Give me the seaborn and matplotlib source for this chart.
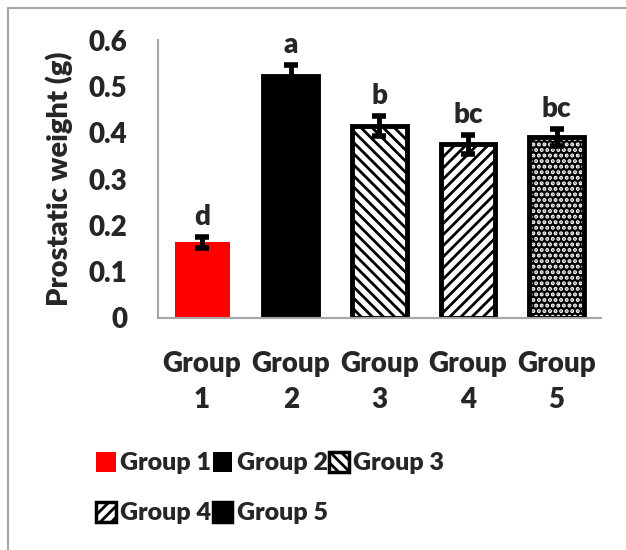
import numpy as np
import pandas as pd
import matplotlib
matplotlib.use('Agg')
import matplotlib.pyplot as plt
import seaborn as sns
from matplotlib.patches import Patch, Rectangle

groups = ['Group 1', 'Group 2', 'Group 3', 'Group 4', 'Group 5']
tick_labels = ['Group\n1', 'Group\n2', 'Group\n3', 'Group\n4', 'Group\n5']
weights = [0.163, 0.522, 0.415, 0.375, 0.390]
errors = [0.011, 0.024, 0.022, 0.020, 0.018]
letters = ['d', 'a', 'b', 'bc', 'bc']

df = pd.DataFrame({'group': groups, 'weight': weights})

sns.set_style('white')
plt.rcParams['font.family'] = ['Lato', 'DejaVu Sans']
plt.rcParams['font.weight'] = 'heavy'
plt.rcParams['hatch.linewidth'] = 2.0

W = 'heavy'
fill = ['red', 'black', 'white', 'white', 'black']
hatch_col = ['red', 'black', 'black', 'black', 'white']
hatches = ['', '', '\\\\\\', '///', '...']

fig = plt.figure(figsize=(6.26, 5.5), dpi=100)
ax = fig.add_axes([0.252, 0.422, 0.708, 0.505])

sns.barplot(data=df, x='group', y='weight', ax=ax, width=0.62,
            palette=fill, hue='group', legend=False, saturation=1)
for i, p in enumerate(ax.patches):
    p.set_hatch(hatches[i])
    p.set_edgecolor(hatch_col[i])
    p.set_linewidth(0)

x = np.arange(len(groups))
# black outlines on groups 2-5
ax.bar(x[1:], weights[1:], width=0.62, fill=False, edgecolor='black', linewidth=3.5)
ax.errorbar(x, weights, yerr=errors, fmt='none', ecolor='black',
            elinewidth=3.5, capsize=5, capthick=4)

for xi, w, e, t in zip(x, weights, errors, letters):
    ax.annotate(t, (xi, w + e), xytext=(0, 5), textcoords='offset points',
                ha='center', va='bottom', fontsize=20, fontweight=W)

ax.set_ylim(0, 0.6)
ax.set_xlim(-0.5, 4.5)
ax.set_yticks([0, 0.1, 0.2, 0.3, 0.4, 0.5, 0.6])
ax.set_yticklabels(['0', '0.1', '0.2', '0.3', '0.4', '0.5', '0.6'], fontweight=W)
ax.set_xticks(x)
ax.set_xticklabels(tick_labels, linespacing=1.45, fontweight=W)
ax.tick_params(length=0, labelsize=20)
ax.tick_params(axis='y', pad=22)
ax.tick_params(axis='x', pad=24)
ax.set_xlabel('')
ax.set_ylabel('Prostatic weight (g)', fontsize=21, fontweight=W, labelpad=11)
sns.despine(ax=ax)
for s in ['left', 'bottom']:
    ax.spines[s].set_color('#a6a6a6')
    ax.spines[s].set_linewidth(1.5)

handles = []
for i in [0, 3, 1, 4, 2]:
    if i < 2:
        handles.append(Patch(facecolor=fill[i], linewidth=0, label=groups[i]))
    else:
        handles.append(Patch(facecolor=fill[i], edgecolor='black', hatch=hatches[i],
                             linewidth=2.5, label=groups[i]))
fig.legend(handles=handles, ncol=3, loc='upper left', bbox_to_anchor=(0.138, 0.197),
           frameon=False, handlelength=0.78, handleheight=0.85,
           handletextpad=0.18, columnspacing=0.05, labelspacing=1.1, borderaxespad=0,
           prop={'weight': W, 'size': 18})

fig.patches.append(Rectangle((8 / 626, -0.1), 1.2, 1 - 8 / 550 + 0.1,
                             transform=fig.transFigure, fill=False,
                             edgecolor='#a6a6a6', linewidth=1.5))

fig.savefig('out.png', dpi=100)
